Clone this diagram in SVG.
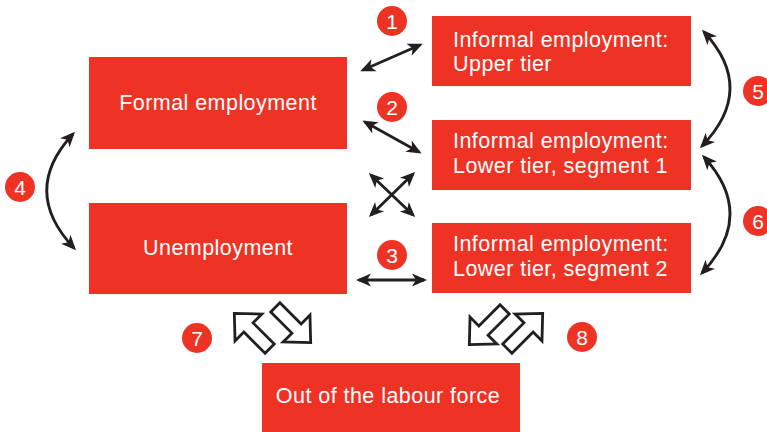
<svg xmlns="http://www.w3.org/2000/svg" width="767" height="432" viewBox="0 0 767 432">
<defs>
<style>
.box{fill:#ee3325}
.lbl{font-family:"Liberation Sans",Arial,sans-serif;font-size:21.5px;letter-spacing:0.45px;fill:#fff}
.num{font-family:"Liberation Sans",Arial,sans-serif;font-size:21px;fill:#fff;text-anchor:middle}
.badge{fill:#ee3325}
.ln{fill:none;stroke:#231f20;stroke-width:2.8}
.blk{fill:#fff;stroke:#231f20;stroke-width:2.8;stroke-linejoin:miter}
</style>
<marker id="ah" markerUnits="userSpaceOnUse" viewBox="-14 -7 18 14" refX="0" refY="0" markerWidth="18" markerHeight="14" orient="auto-start-reverse">
<path d="M3,0 L-12,-6.5 L-8,0 L-12,6.5 Z" fill="#231f20"/>
</marker>
<path id="blkarrow" d="M25,0 L5,-19 L5,-6.5 L-25,-6.5 L-25,6.5 L5,6.5 L5,19 Z"/>
</defs>
<g id="connectors">
<path class="ln" d="M363,70 L420,45" marker-start="url(#ah)" marker-end="url(#ah)"/>
<path class="ln" d="M365,122 L419,152" marker-start="url(#ah)" marker-end="url(#ah)"/>
<path class="ln" d="M371,175 L413,215" marker-start="url(#ah)" marker-end="url(#ah)"/>
<path class="ln" d="M413,174 L371,215" marker-start="url(#ah)" marker-end="url(#ah)"/>
<path class="ln" d="M359,280 L424,280" marker-start="url(#ah)" marker-end="url(#ah)"/>
<path class="ln" d="M73,134 Q20,191 74,248" marker-start="url(#ah)" marker-end="url(#ah)"/>
<path class="ln" d="M704,32 Q757,89 702,146" marker-start="url(#ah)" marker-end="url(#ah)"/>
<path class="ln" d="M704,157 Q757,215 702,273" marker-start="url(#ah)" marker-end="url(#ah)"/>
<use href="#blkarrow" class="blk" transform="translate(252,331) rotate(225)"/>
<use href="#blkarrow" class="blk" transform="translate(293,325) rotate(45)"/>
<use href="#blkarrow" class="blk" transform="translate(487,327) rotate(135)"/>
<use href="#blkarrow" class="blk" transform="translate(525,331) rotate(-45)"/>
</g>
<g id="formal">
<rect class="box" x="89" y="57" width="258" height="92"/>
<text class="lbl" x="218" y="110" text-anchor="middle">Formal employment</text>
</g>
<g id="unemployment">
<rect class="box" x="89" y="203" width="258" height="91"/>
<text class="lbl" x="218" y="255" text-anchor="middle">Unemployment</text>
</g>
<g id="upper">
<rect class="box" x="432" y="16" width="259" height="70"/>
<text class="lbl" x="453" y="47">Informal employment:</text>
<text class="lbl" x="453" y="71">Upper tier</text>
</g>
<g id="seg1">
<rect class="box" x="432" y="120" width="259" height="70"/>
<text class="lbl" x="453" y="148">Informal employment:</text>
<text class="lbl" x="453" y="173">Lower tier, segment 1</text>
</g>
<g id="seg2">
<rect class="box" x="432" y="223" width="259" height="70"/>
<text class="lbl" x="453" y="251">Informal employment:</text>
<text class="lbl" x="453" y="276">Lower tier, segment 2</text>
</g>
<g id="outlf">
<rect class="box" x="262" y="363" width="258" height="69"/>
<text class="lbl" x="388" y="403" text-anchor="middle">Out of the labour force</text>
</g>
<g id="badges">
<g id="b1"><circle class="badge" cx="392" cy="21" r="15"/><text class="num" x="392" y="28.5">1</text></g>
<g id="b2"><circle class="badge" cx="392" cy="107" r="15"/><text class="num" x="392" y="114.5">2</text></g>
<g id="b3"><circle class="badge" cx="392" cy="255" r="15"/><text class="num" x="392" y="262.5">3</text></g>
<g id="b4"><circle class="badge" cx="20" cy="187" r="15"/><text class="num" x="20" y="194.5">4</text></g>
<g id="b5"><circle class="badge" cx="758" cy="91" r="15"/><text class="num" x="758" y="98.5">5</text></g>
<g id="b6"><circle class="badge" cx="758" cy="221" r="15"/><text class="num" x="758" y="228.5">6</text></g>
<g id="b7"><circle class="badge" cx="197" cy="338" r="15"/><text class="num" x="197" y="345.5">7</text></g>
<g id="b8"><circle class="badge" cx="582" cy="337" r="15"/><text class="num" x="582" y="344.5">8</text></g>
</g>
</svg>
